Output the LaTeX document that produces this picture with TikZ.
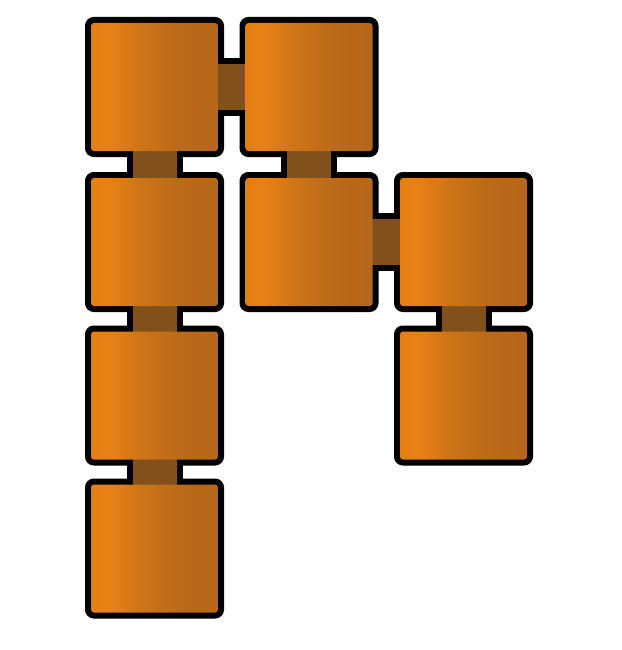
\documentclass[tikz,border=0pt]{standalone}
\definecolor{oA}{RGB}{228,126,20}
\definecolor{oB}{RGB}{232,129,21}
\definecolor{oC}{RGB}{204,116,24}
\definecolor{oD}{RGB}{186,106,24}
\definecolor{oE}{RGB}{174,97,26}
\definecolor{connbrown}{RGB}{130,80,26}
\pgfdeclarehorizontalshading{boxshade}{100bp}{color(0bp)=(oA); color(25bp)=(oA); color(32bp)=(oB); color(45bp)=(oC); color(60bp)=(oD); color(100bp)=(oE)}
\pgfdeclarelayer{bordlayer}
\pgfdeclarelayer{connlayer}
\pgfsetlayers{bordlayer,connlayer,main}
\tikzset{
  blkfill/.style={shading=boxshade, rounded corners=3pt,
    minimum width=127pt, minimum height=128pt, inner sep=0pt, outer sep=0pt},
  blkbord/.style={draw=black, fill=black, line width=6pt, rounded corners=6pt,
    minimum width=133pt, minimum height=134pt, inner sep=0pt, outer sep=0pt},
  conn/.style={draw=black, fill=connbrown, line width=6pt}
}
\newcommand{\blkat}[2]{%
  \node[blkfill] (#1) at #2 {};
  \begin{pgfonlayer}{bordlayer}\node[blkbord] (#1b) at (#1) {};\end{pgfonlayer}}
\begin{document}
\begin{tikzpicture}[x=1pt,y=-1pt]
\useasboundingbox (0,0) rectangle (621,650);
\blkat{a1}{(154.5,87)}
\blkat{a2}{(154.5,242)}
\blkat{a3}{(154.5,395.5)}
\blkat{a4}{(154.5,548.5)}
\blkat{b1}{(309,87)}
\blkat{b2}{(309,242)}
\blkat{c2}{(463.5,242)}
\blkat{c3}{(463.5,395.5)}
\begin{pgfonlayer}{connlayer}
\draw[conn] ([xshift=-25pt,yshift=10pt]a1.south) rectangle ([xshift=25pt,yshift=-10pt]a2.north);
\draw[conn] ([xshift=-25pt,yshift=10pt]a2.south) rectangle ([xshift=25pt,yshift=-10pt]a3.north);
\draw[conn] ([xshift=-25pt,yshift=10pt]a3.south) rectangle ([xshift=25pt,yshift=-10pt]a4.north);
\draw[conn] ([xshift=-25pt,yshift=10pt]b1.south) rectangle ([xshift=25pt,yshift=-10pt]b2.north);
\draw[conn] ([xshift=-25pt,yshift=10pt]c2.south) rectangle ([xshift=25pt,yshift=-10pt]c3.north);
\draw[conn] ([xshift=-10pt,yshift=26pt]a1.east) rectangle ([xshift=10pt,yshift=-26pt]b1.west);
\draw[conn] ([xshift=-10pt,yshift=26pt]b2.east) rectangle ([xshift=10pt,yshift=-26pt]c2.west);
\end{pgfonlayer}
\end{tikzpicture}
\end{document}
